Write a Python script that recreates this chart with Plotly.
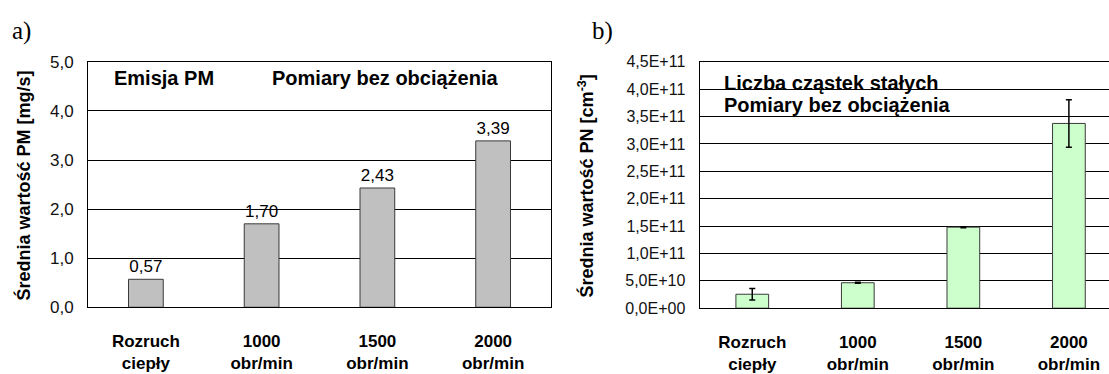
import plotly.graph_objects as go

# ---- data ----
categories = ["Rozruch<br>ciepły", "1000<br>obr/min", "1500<br>obr/min", "2000<br>obr/min"]
pm_values = [0.57, 1.70, 2.43, 3.39]
pn_values = [2.55e10, 4.65e10, 1.48e11, 3.375e11]
pn_errors = [1.05e10, 0.1e10, 0.1e10, 4.35e10]
pm_ticks = [0, 1, 2, 3, 4, 5]
pm_ticktext = ["0,0", "1,0", "2,0", "3,0", "4,0", "5,0"]
pn_ticks = [0, 0.5e11, 1.0e11, 1.5e11, 2.0e11, 2.5e11, 3.0e11, 3.5e11, 4.0e11, 4.5e11]
pn_ticktext = ["0,0E+00", "5,0E+10", "1,0E+11", "1,5E+11", "2,0E+11", "2,5E+11",
               "3,0E+11", "3,5E+11", "4,0E+11", "4,5E+11"]

W, H = 1109, 374
FONT = "Liberation Sans, Arial, sans-serif"
SERIF = "Liberation Serif, Times New Roman, serif"

def px_x(p):
    return p / W

def px_y(p):
    return 1 - p / H

xs = list(range(len(categories)))
pm_labels = [f"{v:.2f}".replace(".", ",") for v in pm_values]
cat_bold = [f"<b>{c}</b>" for c in categories]

fig = go.Figure()

fig.add_trace(go.Bar(
    x=xs, y=pm_values, xaxis="x", yaxis="y", width=0.30,
    marker=dict(color="#c0c0c0", line=dict(color="#3a3a3a", width=1)),
    text=pm_labels, textposition="outside", cliponaxis=False,
    textfont=dict(family=FONT, size=17, color="black"),
    showlegend=False,
))

fig.add_trace(go.Bar(
    x=xs, y=pn_values, xaxis="x2", yaxis="y2", width=0.31,
    marker=dict(color="#ccffcc", line=dict(color="#3a3a3a", width=1)),
    error_y=dict(type="data", array=pn_errors, visible=True, color="black",
                 thickness=1.5, width=3),
    showlegend=False,
))

axis_common = dict(showline=True, linecolor="black", linewidth=1, zeroline=False)

fig.update_layout(
    width=W, height=H, autosize=False,
    margin=dict(l=0, r=0, t=0, b=0),
    paper_bgcolor="white", plot_bgcolor="white",
    font=dict(family=FONT, color="black"),
    xaxis=dict(domain=[px_x(88), px_x(551)], range=[-0.5, 3.5], anchor="y",
               tickvals=xs, ticktext=cat_bold, showgrid=False, mirror=True,
               tickfont=dict(family=FONT, size=17, color="black"),
               ticks="", ticklabelstandoff=18, **axis_common),
    yaxis=dict(domain=[px_y(316), px_y(56)], range=[0, 5], anchor="x",
               tickvals=pm_ticks, ticktext=pm_ticktext, showgrid=True,
               gridcolor="black", gridwidth=1, mirror=True,
               tickfont=dict(family=FONT, size=17, color="#111"),
               ticks="", ticklabelstandoff=10, **axis_common),
    xaxis2=dict(domain=[px_x(699.5), 1.0], range=[-0.5, 3.38], anchor="y2",
                tickvals=xs, ticktext=cat_bold, showgrid=False, mirror=True,
                tickfont=dict(family=FONT, size=17, color="black"),
                ticks="", ticklabelstandoff=18, **axis_common),
    yaxis2=dict(domain=[px_y(317), px_y(56)], range=[0, 4.5e11], anchor="x2",
                tickvals=pn_ticks, ticktext=pn_ticktext, showgrid=True,
                gridcolor="black", gridwidth=1,
                tickfont=dict(family=FONT, size=16, color="#111"),
                ticks="", ticklabelstandoff=10, **axis_common),
    bargap=0.7,
)

ann = []
ann.append(dict(text="a)", x=px_x(10), y=px_y(23), xref="paper", yref="paper",
                xanchor="left", yanchor="middle", showarrow=False,
                font=dict(family=SERIF, size=25, color="black")))
ann.append(dict(text="b)", x=px_x(590), y=px_y(23), xref="paper", yref="paper",
                xanchor="left", yanchor="middle", showarrow=False,
                font=dict(family=SERIF, size=25, color="black")))
ann.append(dict(text="<b>Emisja PM</b>", x=px_x(112), y=px_y(73), xref="paper", yref="paper",
                xanchor="left", yanchor="middle", showarrow=False,
                font=dict(family=FONT, size=20, color="black")))
ann.append(dict(text="<b>Pomiary bez obciążenia</b>", x=px_x(270), y=px_y(73), xref="paper",
                yref="paper", xanchor="left", yanchor="middle", showarrow=False,
                font=dict(family=FONT, size=20, color="black")))
ann.append(dict(text="<b>Liczba cząstek stałych</b>", x=px_x(722), y=px_y(78), xref="paper",
                yref="paper", xanchor="left", yanchor="middle", showarrow=False,
                font=dict(family=FONT, size=20, color="black")))
ann.append(dict(text="<b>Pomiary bez obciążenia</b>", x=px_x(722), y=px_y(102), xref="paper",
                yref="paper", xanchor="left", yanchor="middle", showarrow=False,
                font=dict(family=FONT, size=20, color="black")))
ann.append(dict(text="<b>Średnia wartość PM [mg/s]</b>", x=px_x(23), y=px_y(187),
                xref="paper", yref="paper", xanchor="center", yanchor="middle",
                textangle=-90, showarrow=False,
                font=dict(family=FONT, size=18, color="black")))
ann.append(dict(text="<b>Średnia wartość PN [cm<sup>-3</sup>]</b>", x=px_x(586), y=px_y(188),
                xref="paper", yref="paper", xanchor="center", yanchor="middle",
                textangle=-90, showarrow=False,
                font=dict(family=FONT, size=18, color="black")))
fig.update_layout(annotations=ann)

fig.write_html(
    "out.html",
    config={"displayModeBar": False},
    post_script="document.body.style.margin='0';document.body.style.overflow='hidden';",
)
